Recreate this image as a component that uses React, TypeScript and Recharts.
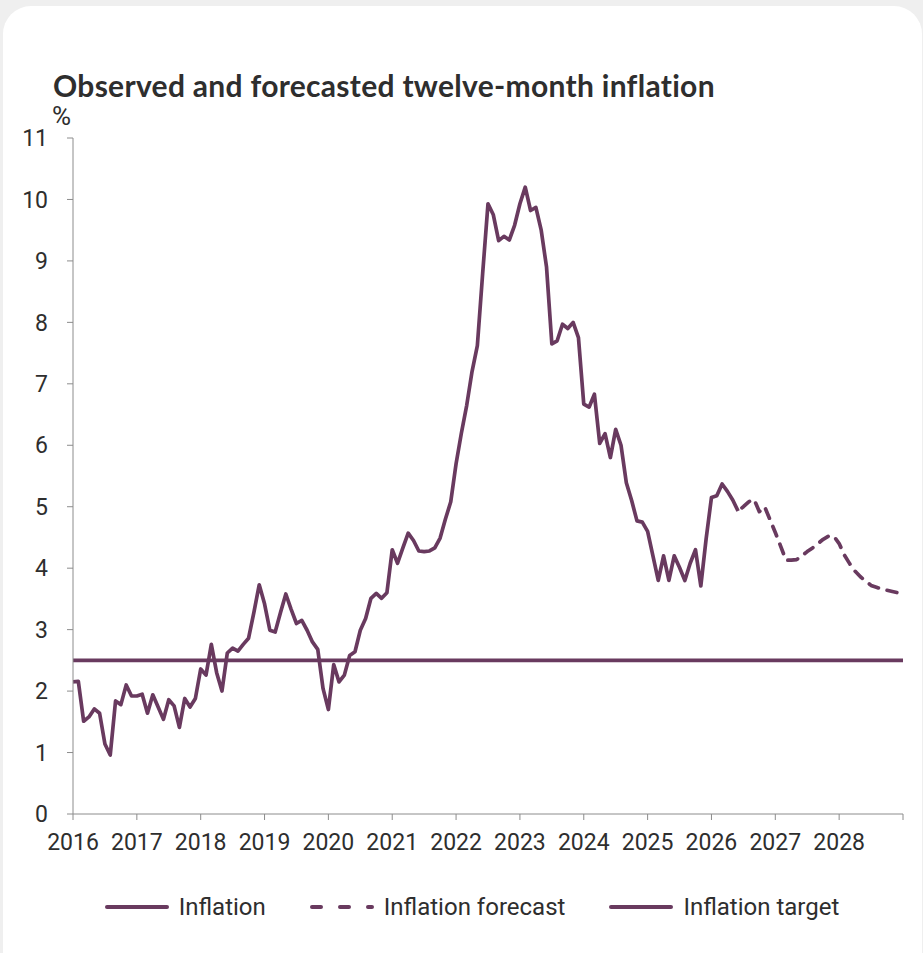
import { LineChart, Line, XAxis, YAxis, ReferenceLine, Legend } from "recharts";

// Twelve-month inflation, monthly from Jan 2016 (%)
const inflation = [
  // 2016
  2.15, 2.16, 1.51, 1.58, 1.71, 1.64, 1.14, 0.96, 1.84, 1.78, 2.1, 1.92,
  // 2017
  1.92, 1.95, 1.64, 1.94, 1.74, 1.54, 1.86, 1.76, 1.41, 1.88, 1.74, 1.88,
  // 2018
  2.36, 2.26, 2.76, 2.3, 2.0, 2.62, 2.7, 2.65, 2.76, 2.86, 3.28, 3.73,
  // 2019
  3.42, 2.99, 2.96, 3.28, 3.58, 3.33, 3.1, 3.15, 2.99, 2.8, 2.68, 2.04,
  // 2020
  1.7, 2.43, 2.15, 2.26, 2.58, 2.64, 2.99, 3.18, 3.51, 3.59, 3.51, 3.6,
  // 2021
  4.3, 4.08, 4.33, 4.57, 4.45, 4.28, 4.27, 4.28, 4.33, 4.49, 4.8, 5.08,
  // 2022
  5.7, 6.2, 6.65, 7.2, 7.62, 8.8, 9.93, 9.75, 9.33, 9.4, 9.34, 9.58,
  // 2023
  9.93, 10.2, 9.82, 9.87, 9.5, 8.9, 7.65, 7.7, 7.97, 7.9, 8.0, 7.75,
  // 2024
  6.67, 6.62, 6.83, 6.03, 6.19, 5.8, 6.26, 6.0, 5.39, 5.1, 4.77, 4.75,
  // 2025
  4.6, 4.2, 3.8, 4.2, 3.8, 4.2, 4.01, 3.8, 4.08, 4.3, 3.71, 4.48,
  // 2026 (Jan-Jun)
  5.15, 5.18, 5.37, 5.25, 5.11, 4.93,
];

// Forecast, monthly from Jun 2026 to Dec 2028 (%)
const forecast = [
  4.93, 5.0, 5.08, 5.12, 4.92, 5.0, 4.79,
  4.58, 4.36, 4.13, 4.13, 4.14, 4.2, 4.27, 4.33, 4.4, 4.47, 4.52, 4.52,
  4.4, 4.21, 4.07, 3.95, 3.86, 3.79, 3.72, 3.69, 3.66, 3.64, 3.62, 3.6,
];

const START_YEAR = 2016;
const FORECAST_START = 125; // month index of Jun 2026
const TARGET = 2.5;

const yearTicks = [2016, 2017, 2018, 2019, 2020, 2021, 2022, 2023, 2024, 2025, 2026, 2027, 2028, 2029];
const valueTicks = [0, 1, 2, 3, 4, 5, 6, 7, 8, 9, 10, 11];

const legendItems = [
  { label: "Inflation", dashed: false },
  { label: "Inflation forecast", dashed: true },
  { label: "Inflation target", dashed: false },
];

const COLOR = "#693a5f";
const AXIS = "#8c8c8c";
const TEXT = "#2e2e2e";
const FONT = "Roboto, sans-serif";

const rows: { t: number; inflation: number | null; forecast: number | null }[] = [];
for (let m = 0; m < FORECAST_START + forecast.length; m++) {
  rows.push({
    t: START_YEAR + m / 12,
    inflation: m < inflation.length ? inflation[m] : null,
    forecast: m >= FORECAST_START ? forecast[m - FORECAST_START] : null,
  });
}

function LegendContent() {
  return (
    <div style={{ display: "flex", justifyContent: "center", alignItems: "center", gap: 43 }}>
      {legendItems.map((item) => (
        <div key={item.label} style={{ display: "flex", alignItems: "center" }}>
          <svg width={66} height={10}>
            <line
              x1={3}
              y1={5}
              x2={63}
              y2={5}
              stroke={COLOR}
              strokeWidth={4}
              strokeLinecap="round"
              strokeDasharray={item.dashed ? "9 19" : undefined}
            />
          </svg>
          <span style={{ marginLeft: 9, fontSize: 24, color: TEXT, fontFamily: FONT }}>{item.label}</span>
        </div>
      ))}
    </div>
  );
}

export default function App() {
  return (
    <div style={{ position: "absolute", left: 0, top: 0, width: 923, height: 953, background: "#efefef", overflow: "hidden" }}>
      <div
        style={{
          position: "absolute",
          left: 3,
          top: 6,
          width: 919,
          height: 980,
          background: "#ffffff",
          borderRadius: 28,
        }}
      />
      <div
        style={{
          position: "absolute",
          left: 53,
          top: 66,
          fontFamily: "Lato, sans-serif",
          fontWeight: 700,
          fontSize: 30,
          letterSpacing: 0.3,
          lineHeight: "38px",
          color: TEXT,
          whiteSpace: "nowrap",
        }}
      >
        Observed and forecasted twelve-month inflation
      </div>
      <div
        style={{
          position: "absolute",
          left: 52,
          top: 101,
          fontFamily: FONT,
          fontSize: 26,
          color: TEXT,
        }}
      >
        %
      </div>
      <div style={{ position: "absolute", left: 0, top: 0 }}>
        <LineChart width={923} height={953} data={rows} margin={{ top: 138, right: 20, bottom: 20, left: 0 }}>
          <XAxis
            dataKey="t"
            type="number"
            domain={[2016, 2029]}
            ticks={yearTicks}
            interval={0}
            tickFormatter={(v: number) => (v === 2029 ? "" : String(v))}
            stroke={AXIS}
            tickSize={6}
            tickMargin={14}
            height={79}
            tick={{ fill: TEXT, fontSize: 23, fontFamily: FONT }}
            allowDataOverflow
          />
          <YAxis
            type="number"
            domain={[0, 11]}
            ticks={valueTicks}
            interval={0}
            stroke={AXIS}
            tickSize={6}
            tickMargin={19}
            width={73}
            tick={{ fill: TEXT, fontSize: 23, fontFamily: FONT }}
          />
          <ReferenceLine y={TARGET} stroke={COLOR} strokeWidth={3.7} />
          <Line
            dataKey="inflation"
            name="Inflation"
            stroke={COLOR}
            strokeWidth={3.7}
            strokeLinejoin="round"
            dot={false}
            activeDot={false}
            isAnimationActive={false}
          />
          <Line
            dataKey="forecast"
            name="Inflation forecast"
            stroke={COLOR}
            strokeWidth={3.7}
            strokeLinejoin="round"
            strokeLinecap="round"
            strokeDasharray="10 9"
            strokeDashoffset={14}
            dot={false}
            activeDot={false}
            isAnimationActive={false}
          />
          <Legend
            content={LegendContent}
            height={40}
            verticalAlign="bottom"
            wrapperStyle={{ top: 893, bottom: "auto", left: 20 }}
          />
        </LineChart>
      </div>
    </div>
  );
}
